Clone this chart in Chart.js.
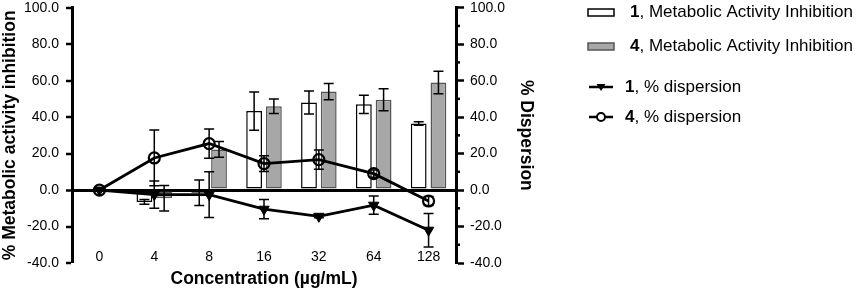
<!DOCTYPE html>
<html>
<head>
<meta charset="utf-8">
<script src="https://cdn.jsdelivr.net/npm/chart.js@4.4.0/dist/chart.umd.min.js"></script>
<style>
  html, body { margin: 0; padding: 0; background: #fff; }
  #wrap { width: 858px; height: 290px; position: relative; }
</style>
</head>
<body>
<div id="wrap"><canvas id="chart"></canvas></div>
<script>
const CONCENTRATIONS = ["0", "4", "8", "16", "32", "64", "128"];
const INHIBITION_1 = [0, -6.5, -1.5, 43.3, 48, 47, 36.5];
const INHIBITION_1_ERR = [0, 1.3, 7, 10.5, 6.3, 5, 1];
const INHIBITION_4 = [0, -4.5, 22.3, 46, 54, 49.5, 59];
const INHIBITION_4_ERR = [0, 7, 4.3, 4, 4.5, 6, 6.2];
const DISPERSION_1 = [0, -2.5, -2.5, -10.5, -14.4, -8.3, -22];
const DISPERSION_1_ERR = [0, 7.5, 12.5, 5.3, 0.8, 5, 9.2];
const DISPERSION_4 = [0, 17.6, 25.5, 14.5, 16.7, 9, -6];
const DISPERSION_4_ERR = [0, 15.3, 8, 4.3, 5.3, 2, 2.5];
const Y_TICKS = [-40, -20, 0, 20, 40, 60, 80, 100];
const Y_MINOR = [-30, -10, 10, 30, 50, 70, 90];

const FONT = "'Liberation Sans', Arial, sans-serif";

; (function (document, window) {
  "use strict";

  // error bars, drawn through the scales of each dataset
  const errorBars = {
    id: "errorBars",
    afterDatasetsDraw: (chart) => {
      const { ctx } = chart;
      ctx.save();
      ctx.strokeStyle = "#000";
      ctx.lineWidth = 1.5;
      chart.data.datasets.forEach((ds, di) => {
        if (!ds.errors) return;
        const meta = chart.getDatasetMeta(di);
        const scale = chart.scales[meta.yAxisID];
        meta.data.forEach((el, i) => {
          const e = ds.errors[i];
          if (!e) return;
          const x = el.x;
          const y1 = scale.getPixelForValue(ds.data[i] + e);
          const y2 = scale.getPixelForValue(ds.data[i] - e);
          const cap = 5;
          ctx.beginPath();
          ctx.moveTo(x, y1); ctx.lineTo(x, y2);
          ctx.moveTo(x - cap, y1); ctx.lineTo(x + cap, y1);
          ctx.moveTo(x - cap, y2); ctx.lineTo(x + cap, y2);
          ctx.stroke();
        });
      });
      ctx.restore();
    },
  };

  // short minor ticks on the right axis + category labels sitting inside the y range
  const axisExtras = {
    id: "axisExtras",
    afterDraw: (chart) => {
      const { ctx } = chart;
      const scale = chart.scales.y2;
      ctx.save();
      ctx.strokeStyle = "#000";
      ctx.lineWidth = 2.5;
      Y_MINOR.forEach((v) => {
        const y = scale.getPixelForValue(v);
        ctx.beginPath();
        ctx.moveTo(scale.left, y);
        ctx.lineTo(scale.left + 4, y);
        ctx.stroke();
      });
      const xs = chart.scales.x;
      ctx.fillStyle = "#000";
      ctx.font = "14px " + FONT;
      ctx.textAlign = "center";
      ctx.textBaseline = "middle";
      chart.data.labels.forEach((lab, i) => {
        ctx.fillText(lab, xs.getPixelForValue(i), chart.chartArea.bottom - 6);
      });
      ctx.restore();
    },
  };

  // legend with bold compound number
  const customLegend = {
    id: "customLegend",
    afterDraw: (chart) => {
      const { ctx } = chart;
      const rows = [12.5, 46.5, 87, 117];
      const x0 = 588, x1 = 614;
      ctx.save();
      chart.data.datasets.forEach((ds, i) => {
        const y = rows[i];
        let tx;
        if (ds.type === "bar") {
          ctx.fillStyle = ds.backgroundColor;
          ctx.strokeStyle = ds.borderColor;
          ctx.lineWidth = 1.5;
          ctx.fillRect(x0, y - 3.5, x1 - x0, 7);
          ctx.strokeRect(x0, y - 3.5, x1 - x0, 7);
          tx = 630;
        } else {
          ctx.strokeStyle = "#000";
          ctx.lineWidth = 2.5;
          ctx.beginPath();
          ctx.moveTo(x0 + 1, y); ctx.lineTo(x1 - 1, y);
          ctx.stroke();
          const cx = (x0 + x1) / 2;
          if (ds.pointStyle === "triangle") {
            ctx.fillStyle = "#000";
            ctx.beginPath();
            ctx.moveTo(cx - 4.5, y - 3);
            ctx.lineTo(cx + 4.5, y - 3);
            ctx.lineTo(cx, y + 4);
            ctx.closePath();
            ctx.fill();
          } else {
            ctx.fillStyle = "#fff";
            ctx.lineWidth = 2;
            ctx.beginPath();
            ctx.arc(cx, y, 4, 0, Math.PI * 2);
            ctx.fill();
            ctx.stroke();
          }
          tx = 625;
        }
        const parts = ds.label.split(",");
        const bold = parts[0];
        const rest = "," + parts.slice(1).join(",");
        ctx.fillStyle = "#000";
        ctx.textBaseline = "middle";
        ctx.font = "bold 17px " + FONT;
        ctx.fillText(bold, tx, y);
        const w = ctx.measureText(bold).width;
        ctx.font = "17px " + FONT;
        ctx.fillText(rest, tx + w, y);
      });
      ctx.restore();
    },
  };

  const tickFont = { family: FONT, size: 14 };
  const titleFont = { family: FONT, size: 17.5, weight: "bold" };

  const ctx = document.getElementById("chart").getContext("2d");
  new Chart(ctx, {
    data: {
      labels: CONCENTRATIONS,
      datasets: [
        {
          type: "bar",
          label: "1, Metabolic Activity Inhibition",
          data: INHIBITION_1,
          errors: INHIBITION_1_ERR,
          backgroundColor: "#ffffff",
          borderColor: "#000000",
          borderWidth: 1.5,
          borderSkipped: false,
          yAxisID: "y",
          order: 2,
        },
        {
          type: "bar",
          label: "4, Metabolic Activity Inhibition",
          data: INHIBITION_4,
          errors: INHIBITION_4_ERR,
          backgroundColor: "#a7a7a7",
          borderColor: "#555555",
          borderWidth: 1.5,
          borderSkipped: false,
          yAxisID: "y",
          order: 2,
        },
        {
          type: "line",
          label: "1, % dispersion",
          data: DISPERSION_1,
          errors: DISPERSION_1_ERR,
          borderColor: "#000",
          borderWidth: 2.8,
          pointStyle: "triangle",
          pointRotation: 180,
          pointRadius: 6,
          pointBackgroundColor: "#000",
          pointBorderColor: "#000",
          pointBorderWidth: 1,
          yAxisID: "y2",
          order: 1,
        },
        {
          type: "line",
          label: "4, % dispersion",
          data: DISPERSION_4,
          errors: DISPERSION_4_ERR,
          borderColor: "#000",
          borderWidth: 2.8,
          pointStyle: "circle",
          pointRadius: 5.5,
          pointBackgroundColor: "rgba(0,0,0,0)",
          pointBorderColor: "#000",
          pointBorderWidth: 2.2,
          yAxisID: "y2",
          order: 1,
        },
      ],
    },
    options: {
      responsive: true,
      maintainAspectRatio: false,
      animation: false,
      layout: { padding: { top: 7, right: 321, left: 0, bottom: 0 } },
      datasets: { bar: { categoryPercentage: 0.72, barPercentage: 0.8 } },
      plugins: { legend: { display: false }, tooltip: { enabled: false } },
      scales: {
        x: {
          grid: { display: false, drawTicks: false },
          border: { display: false },
          ticks: { display: false },
          title: { display: true, text: "Concentration (µg/mL)", font: titleFont, color: "#000", padding: { top: 0, bottom: 0 } },
          afterFit: (s) => { s.height = 27; },
        },
        y: {
          position: "left",
          min: Y_TICKS[0],
          max: Y_TICKS[Y_TICKS.length - 1],
          ticks: { stepSize: 20, font: tickFont, color: "#000", padding: 7, callback: (v) => v.toFixed(1) },
          grid: {
            color: (c) => (c.tick && c.tick.value === 0 ? "#000" : "rgba(0,0,0,0)"),
            lineWidth: (c) => (c.tick && c.tick.value === 0 ? 3 : 0),
            tickColor: "#000",
            tickWidth: 2.5,
            tickLength: 6,
          },
          border: { display: true, color: "#000", width: 3 },
          title: { display: true, text: "% Metabolic activity inhibition", font: titleFont, color: "#000", padding: { top: 0, bottom: 0 } },
          afterFit: (s) => { s.width = 72; s.paddingTop = 0; s.paddingBottom = 0; },
        },
        y2: {
          position: "right",
          min: Y_TICKS[0],
          max: Y_TICKS[Y_TICKS.length - 1],
          ticks: { stepSize: 20, font: tickFont, color: "#000", padding: 6, callback: (v) => v.toFixed(1) },
          grid: { drawOnChartArea: false, tickColor: "#000", tickWidth: 2.5, tickLength: 8 },
          border: { display: true, color: "#000", width: 3 },
          title: { display: true, text: "% Dispersion", font: titleFont, color: "#000", padding: { top: 1, bottom: 0 } },
          afterFit: (s) => { s.width = 81; s.paddingTop = 0; s.paddingBottom = 0; },
        },
      },
    },
    plugins: [errorBars, axisExtras, customLegend],
  });
})(document, window);
</script>
</body>
</html>
